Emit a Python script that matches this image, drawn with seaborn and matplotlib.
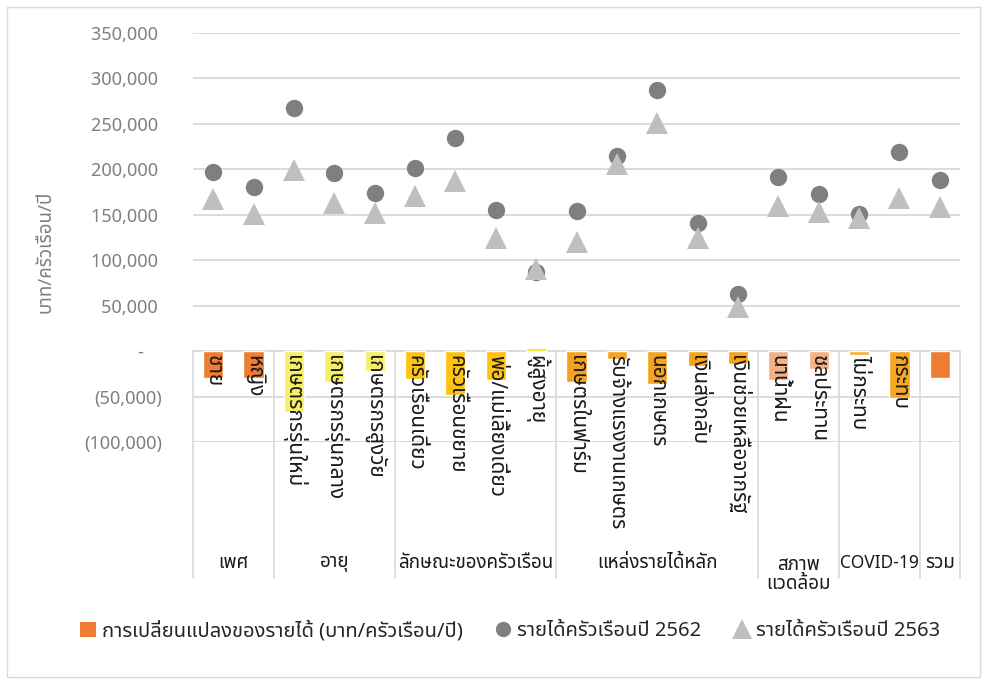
import glob
import os
import matplotlib
matplotlib.use("Agg")
import matplotlib.pyplot as plt
import matplotlib.transforms as mtransforms
from matplotlib import font_manager as fm
from matplotlib.ft2font import FT2Font
from matplotlib.lines import Line2D
from matplotlib.patches import Patch, Rectangle
from matplotlib.ticker import FuncFormatter, MultipleLocator
import numpy as np
import pandas as pd
import seaborn as sns

# ---------------- data ----------------
categories = [
    "ชาย", "หญิง",
    "เกษตรกรรุ่นใหม่", "เกษตรกรรุ่นกลาง", "เกษตรกรสูงวัย",
    "ครัวเรือนเดี่ยว", "ครัวเรือนขยาย", "พ่อ/แม่เลี้ยงเดี่ยว", "ผู้สูงอายุ",
    "เกษตรในฟาร์ม", "รับจ้างแรงงานเกษตร", "นอกเกษตร", "เงินส่งกลับ", "เงินช่วยเหลือจากรัฐ",
    "นาน้ำฝน", "ชลประทาน",
    "ไม่กระทบ", "กระทบ",
    "",
]
group_names = ["เพศ", "อายุ", "ลักษณะของครัวเรือน", "แหล่งรายได้หลัก", "สภาพ\nแวดล้อม", "COVID-19", "รวม"]
group_sizes = [2, 3, 4, 5, 2, 2, 1]

income_2562 = [197000, 180500, 267000, 196500, 173500, 201000, 235000, 155500, 87000,
               154000, 214500, 287000, 140500, 62500, 192000, 172500, 150500, 219500, 188500]
income_2563 = [167000, 151000, 199500, 162500, 151500, 170500, 187000, 124000, 90500,
               120000, 205500, 250500, 124500, 48500, 160000, 153000, 146500, 168000, 158500]
income_change = [-30000, -29500, -67500, -34000, -22000, -30500, -48000, -31500, 3500,
                 -34000, -9000, -36500, -16000, -14000, -32000, -19500, -4000, -51500, -30000]
bar_colors = ["#ED7D31", "#ED7D31",
              "#F5EF66", "#F5EF66", "#F5EF66",
              "#FFC20E", "#FFC20E", "#FFC20E", "#EEE600",
              "#F6A21E", "#F6A21E", "#F6A21E", "#F6A21E", "#F6A21E",
              "#F4B183", "#F4B183",
              "#F8B02E", "#F6A623",
              "#ED7D31"]

legend_labels = ["การเปลี่ยนแปลงของรายได้ (บาท/ครัวเรือน/ปี)",
                 "รายได้ครัวเรือนปี 2562", "รายได้ครัวเรือนปี 2563"]
y_label = "บาท/ครัวเรือน/ปี"

# unique keys for the categorical axis (the last category has an empty label)
keys = [f"{i:02d}_{c}" for i, c in enumerate(categories)]
df = pd.DataFrame({"key": keys, "y2562": income_2562, "y2563": income_2563,
                   "change": income_change})


# ---------------- fonts ----------------
def find_thai_font():
    for d in ["/usr/share/fonts", "/usr/local/share/fonts", os.path.expanduser("~/.fonts")]:
        for p in glob.glob(os.path.join(d, "**", "*.[to]tf"), recursive=True):
            low = p.lower()
            if "thai" in low or "tlwg" in low or "tahoma" in low or "sarabun" in low:
                try:
                    fm.fontManager.addfont(p)
                except Exception:
                    pass
    prefs = ["Tahoma", "Leelawadee UI", "Leelawadee", "Noto Sans Thai", "Noto Sans Thai UI",
             "Sarabun", "Loma", "Garuda", "Umpush", "Waree", "Kinnari", "Norasi",
             "FreeSans", "Noto Serif Thai", "Noto Looped Thai"]
    found = {}
    for f in fm.fontManager.ttflist:
        if f.name in found:
            continue
        try:
            cm = FT2Font(f.fname).get_charmap()
        except Exception:
            continue
        if 0x0E01 in cm and 0x0E35 in cm and 0x0E48 in cm:
            found[f.name] = f.fname
    for p in prefs:
        if p in found:
            return p
    return next(iter(found), None)


thai = find_thai_font()
sns.set_theme(style="white")
families = ([thai] if thai else []) + ["DejaVu Sans"]
plt.rcParams["font.family"] = families

# ---------------- figure ----------------
W, H = 983, 679
fig = plt.figure(figsize=(W / 100, H / 100), dpi=100)
ax_l, ax_r, ax_t, ax_b = 193, 960, 33, 442
ax = fig.add_axes([ax_l / W, 1 - ax_b / H, (ax_r - ax_l) / W, (ax_b - ax_t) / H])

palette = dict(zip(keys, bar_colors))
sns.barplot(data=df, x="key", y="change", hue="key", palette=palette, order=keys,
            legend=False, width=0.5, saturation=1, ax=ax, zorder=2)
sns.pointplot(data=df, x="key", y="y2562", order=keys, color="#7F7F7F", errorbar=None,
              marker="o", markersize=12.5, markeredgewidth=0, linestyle="none", ax=ax)
sns.pointplot(data=df, x="key", y="y2563", order=keys, color="#BFBFBF", errorbar=None,
              marker="^", markersize=16.5, markeredgewidth=0, linestyle="none", ax=ax)
for ln in ax.lines:
    ln.set_zorder(4)
ax.lines[-1].set_zorder(5)

n = len(categories)
ax.set_xlim(-0.5, n - 0.5)
ax.set_ylim(-100000, 350000)
ax.yaxis.set_major_locator(MultipleLocator(50000))


def fmt(v, pos):
    if abs(v) < 1:
        return "-    "
    if v < 0:
        return f"({abs(v):,.0f})"
    return f"{v:,.0f} "


ax.yaxis.set_major_formatter(FuncFormatter(fmt))
ax.tick_params(axis="y", length=0, pad=22, labelsize=13, labelcolor="#7F7F7F")
ax.tick_params(axis="x", length=0, labelbottom=False)
ax.set_xlabel("")
ax.set_ylabel("")
ax.grid(False)
ax.yaxis.grid(True, color="#D9D9D9", linewidth=1.3, zorder=0)
ax.set_axisbelow(True)
for s in ax.spines.values():
    s.set_visible(False)

# category labels (rotated) below the zero line
off = mtransforms.offset_copy(ax.transData, fig=fig, x=0, y=-4, units="dots")
for i, c in enumerate(categories):
    ax.text(i, 0, c, rotation=270, ha="center", va="top", fontsize=15,
            color="#1A1A1A", transform=off, clip_on=False, zorder=6)

# group separators and group labels
blend = mtransforms.blended_transform_factory(ax.transData, ax.transAxes)
y0 = 100000 / 450000
y_end = (ax_b - 578) / (ax_b - ax_t)
edges = np.concatenate([[0], np.cumsum(group_sizes)]) - 0.5
for e in edges:
    ax.plot([e, e], [y0, y_end], color="#D9D9D9", lw=1.2, transform=blend,
            clip_on=False, zorder=1)
for gname, a, b in zip(group_names, edges[:-1], edges[1:]):
    if "\n" in gname:
        yy, va = (ax_b - 556) / (ax_b - ax_t), "top"
    else:
        yy, va = (ax_b - 563) / (ax_b - ax_t), "center"
    size = 12.5 if gname.startswith("COVID") else 13.5
    ax.text((a + b) / 2, yy, gname, ha="center", va=va, fontsize=size, color="#1A1A1A",
            transform=blend, clip_on=False, linespacing=1.1)

# y axis title
fig.text(45 / W, 1 - 252 / H, y_label, rotation=90, ha="center", va="center",
         fontsize=13.5, color="#7F7F7F")

# legend
handles = [
    Patch(facecolor="#ED7D31", edgecolor="none"),
    Line2D([], [], linestyle="none", marker="o", markersize=11, color="#7F7F7F", markeredgewidth=0),
    Line2D([], [], linestyle="none", marker="^", markersize=14, color="#BFBFBF", markeredgewidth=0),
]
fig.legend(handles, legend_labels, loc="center", bbox_to_anchor=(510 / W, 1 - 631 / H),
           ncol=3, frameon=False, handletextpad=0.3, columnspacing=1.6,
           handlelength=0.8, handleheight=0.8,
           prop={"size": 14.5, "weight": "bold"})

# chart border
fig.patches.append(Rectangle((7 / W, 1 - 677 / H), (980 - 7) / W, (677 - 7) / H,
                             transform=fig.transFigure, fill=False,
                             edgecolor="#D9D9D9", linewidth=1.0))

fig.savefig("out.png", dpi=100, facecolor="white")
